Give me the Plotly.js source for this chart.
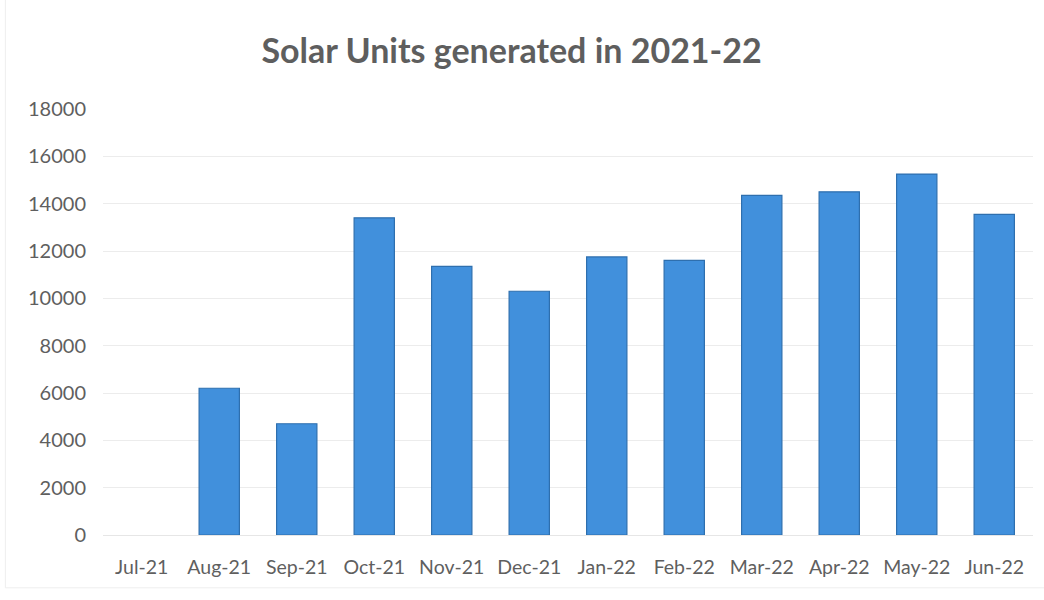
<!DOCTYPE html>
<html>
<head>
<meta charset="utf-8">
<script src="https://cdn.plot.ly/plotly-3.0.1.min.js"></script>
<style>html,body{margin:0;padding:0;background:#fff;}#chart{width:1044px;height:600px;}</style>
</head>
<body>
<div id="chart"></div>
<script>
const months = ["Jul-21","Aug-21","Sep-21","Oct-21","Nov-21","Dec-21","Jan-22","Feb-22","Mar-22","Apr-22","May-22","Jun-22"];
const unitsGenerated = [0, 6200, 4700, 13400, 11350, 10300, 11750, 11600, 14350, 14500, 15250, 13550];
const yTicks = [0, 2000, 4000, 6000, 8000, 10000, 12000, 14000, 16000, 18000];
const chartTitle = "Solar Units generated in 2021-22";

const trace = {
  type: "bar",
  x: months,
  y: unitsGenerated,
  marker: {color: "#4190dc", line: {color: "#2e6fae", width: unitsGenerated.map(v => v > 0 ? 1.2 : 0)}},
  hoverinfo: "x+y"
};

const layout = {
  width: 1044, height: 600,
  paper_bgcolor: "#ffffff", plot_bgcolor: "#ffffff",
  margin: {l: 103, r: 11, t: 109, b: 65},
  font: {family: "Lato, 'Open Sans', sans-serif", color: "#5f5f5f", size: 19},
  title: {text: "<b>" + chartTitle + "</b>", font: {family: "Lato, 'Open Sans', sans-serif", size: 34, color: "#5e5e5e"},
          x: 0.49, xanchor: "center", y: 0.915, yanchor: "middle", yref: "container"},
  bargap: 0.48,
  showlegend: false,
  xaxis: {type: "category", tickvals: months, ticktext: months, showgrid: false, zeroline: false,
          showline: true, linecolor: "#e6e6e6", linewidth: 1,
          ticks: "outside", ticklen: 15, tickcolor: "rgba(0,0,0,0)",
          tickfont: {size: 19.5, color: "#5f5f5f"}},
  yaxis: {range: [0, 18000], tickvals: yTicks, ticktext: yTicks.map(String),
          showgrid: true, gridcolor: "#ececec", gridwidth: 1, zeroline: false,
          ticks: "outside", ticklen: 12, tickcolor: "rgba(0,0,0,0)",
          tickfont: {size: 20, color: "#5f5f5f"}},
  shapes: [{type: "rect", xref: "paper", yref: "paper", x0: -0.105, x1: 1.03, y0: -0.124, y1: 1.3,
            line: {color: "#eeeeee", width: 1}, layer: "below"}]
};

Plotly.newPlot("chart", [trace], layout, {displayModeBar: false, staticPlot: true});
</script>
</body>
</html>
